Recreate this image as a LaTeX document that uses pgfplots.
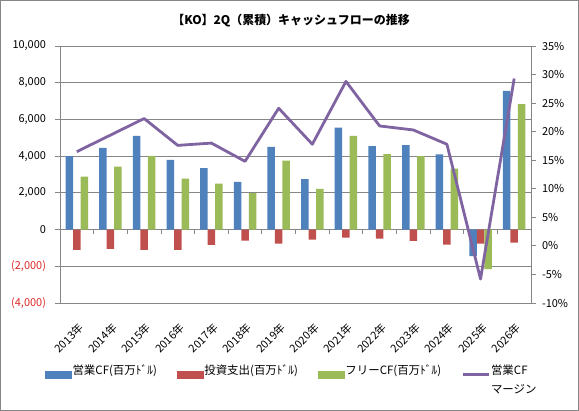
\documentclass[border=0pt]{standalone}
\usepackage{pgfplots}
\pgfplotsset{compat=1.18}
\usepackage{fontspec}
\setmainfont{Noto Sans CJK JP}
\definecolor{cfblue}{RGB}{79,129,189}
\definecolor{cfred}{RGB}{192,80,77}
\definecolor{cfgreen}{RGB}{155,187,89}
\definecolor{cfpurple}{RGB}{128,100,162}
\definecolor{gridgray}{RGB}{134,134,134}
\definecolor{negred}{RGB}{220,40,40}
\begin{document}
\begin{tikzpicture}
\path[use as bounding box] (0,0) rectangle (579bp,411bp);
\draw[gridgray, line width=1bp] (0.5bp,0.5bp) rectangle (578.5bp,410.5bp);
\node[font=\bfseries\fontsize{12}{14}\selectfont] at (291bp,390bp) {【KO】2Q（累積）キャッシュフローの推移};
\begin{axis}[
  at={(60bp,108bp)}, anchor=south west,
  scale only axis, width=471bp, height=257bp,
  xmin=-0.5, xmax=13.5, ymin=-4000, ymax=10000,
  scaled y ticks=false,
  ybar=0pt, bar width=7.5bp,
  axis x line*=bottom, axis y line*=left,
  axis line style={-}, x axis line style={draw=none}, y axis line style={draw=gridgray, line width=0.8bp},
  ytick={-4000,-2000,0,2000,4000,6000,8000,10000},
  yticklabels={{\textcolor{negred}{(4,000)}},{\textcolor{negred}{(2,000)}},0,{2,000},{4,000},{6,000},{8,000},{10,000}},
  xtick={0,1,2,3,4,5,6,7,8,9,10,11,12,13},
  xticklabels={2013年,2014年,2015年,2016年,2017年,2018年,2019年,2020年,2021年,2022年,2023年,2024年,2025年,2026年},
  xtick style={draw=none},
  ytick style={draw=gridgray, line width=0.8bp},
  tick align=outside, major tick length=4.5bp,
  ymajorgrids, grid style={gridgray, line width=0.8bp},
  tick label style={font=\fontsize{11}{13}\selectfont},
  yticklabel style={xshift=-6bp},
  xticklabel style={xshift=1bp, rotate=45, anchor=north east, inner sep=1bp},
  xticklabel shift=13bp,
]
\addplot[fill=cfblue, draw=none] coordinates {(0,4000) (1,4450) (2,5100) (3,3800) (4,3350) (5,2600) (6,4500) (7,2750) (8,5550) (9,4550) (10,4600) (11,4100) (12,-1450) (13,7550)};
\addplot[fill=cfred, draw=none] coordinates {(0,-1100) (1,-1050) (2,-1100) (3,-1100) (4,-830) (5,-600) (6,-770) (7,-550) (8,-440) (9,-490) (10,-620) (11,-820) (12,-765) (13,-710)};
\addplot[fill=cfgreen, draw=none] coordinates {(0,2880) (1,3430) (2,4020) (3,2770) (4,2500) (5,1980) (6,3760) (7,2220) (8,5100) (9,4110) (10,4000) (11,3320) (12,-2160) (13,6840)};
\pgfplotsinvokeforeach{-0.5,0.5,1.5,2.5,3.5,4.5,5.5,6.5,7.5,8.5,9.5,10.5,11.5,12.5,13.5}{
  \draw[gridgray, line width=0.8bp] (axis cs:#1,0) -- ++(0bp,-4bp);
}
\end{axis}
\begin{axis}[
  at={(60bp,108bp)}, anchor=south west,
  scale only axis, width=471bp, height=257bp,
  xmin=-0.5, xmax=13.5, ymin=-10, ymax=35,
  axis x line=none, axis y line*=right,
  axis line style={-}, y axis line style={draw=gridgray, line width=0.8bp},
  xtick=\empty,
  ytick={-10,-5,0,5,10,15,20,25,30,35},
  yticklabels={-10\%,-5\%,0\%,5\%,10\%,15\%,20\%,25\%,30\%,35\%},
  ytick style={draw=gridgray, line width=0.8bp},
  tick align=outside, major tick length=4.5bp,
  tick label style={font=\fontsize{11}{13}\selectfont},
  yticklabel style={xshift=3bp},
  legend columns=4,
  legend style={at={(axis description cs:-0.032,-0.236)}, anchor=north west, draw=none, fill=none,
    inner sep=0pt, font=\fontsize{11.5}{13}\selectfont,
    /tikz/every even column/.append style={column sep=19bp},
    nodes={inner sep=1bp, anchor=base west}},
]
\addlegendimage{legend image code/.code={\fill[cfblue] (0bp,-3.5bp) rectangle (26bp,3.5bp);}}
\addlegendentry{営業CF(百万ﾄﾞﾙ)}
\addlegendimage{legend image code/.code={\fill[cfred] (0bp,-3.5bp) rectangle (26bp,3.5bp);}}
\addlegendentry{投資支出(百万ﾄﾞﾙ)}
\addlegendimage{legend image code/.code={\fill[cfgreen] (0bp,-3.5bp) rectangle (26bp,3.5bp);}}
\addlegendentry{フリーCF(百万ﾄﾞﾙ)}
\addplot[cfpurple, line width=2.8bp, line join=round,
  legend image code/.code={\draw[cfpurple, line width=2.8bp] (0bp,0bp) -- (26bp,0bp);}]
  coordinates {(0,16.5) (1,19.4) (2,22.3) (3,17.6) (4,18.0) (5,14.8) (6,24.1) (7,17.8) (8,28.8) (9,21.0) (10,20.3) (11,17.8) (12,-5.8) (13,29.3)};
\addlegendentry{\vtop{\baselineskip=19bp\hbox{営業CF}\hbox{マージン}}}
\end{axis}
\end{tikzpicture}
\end{document}
